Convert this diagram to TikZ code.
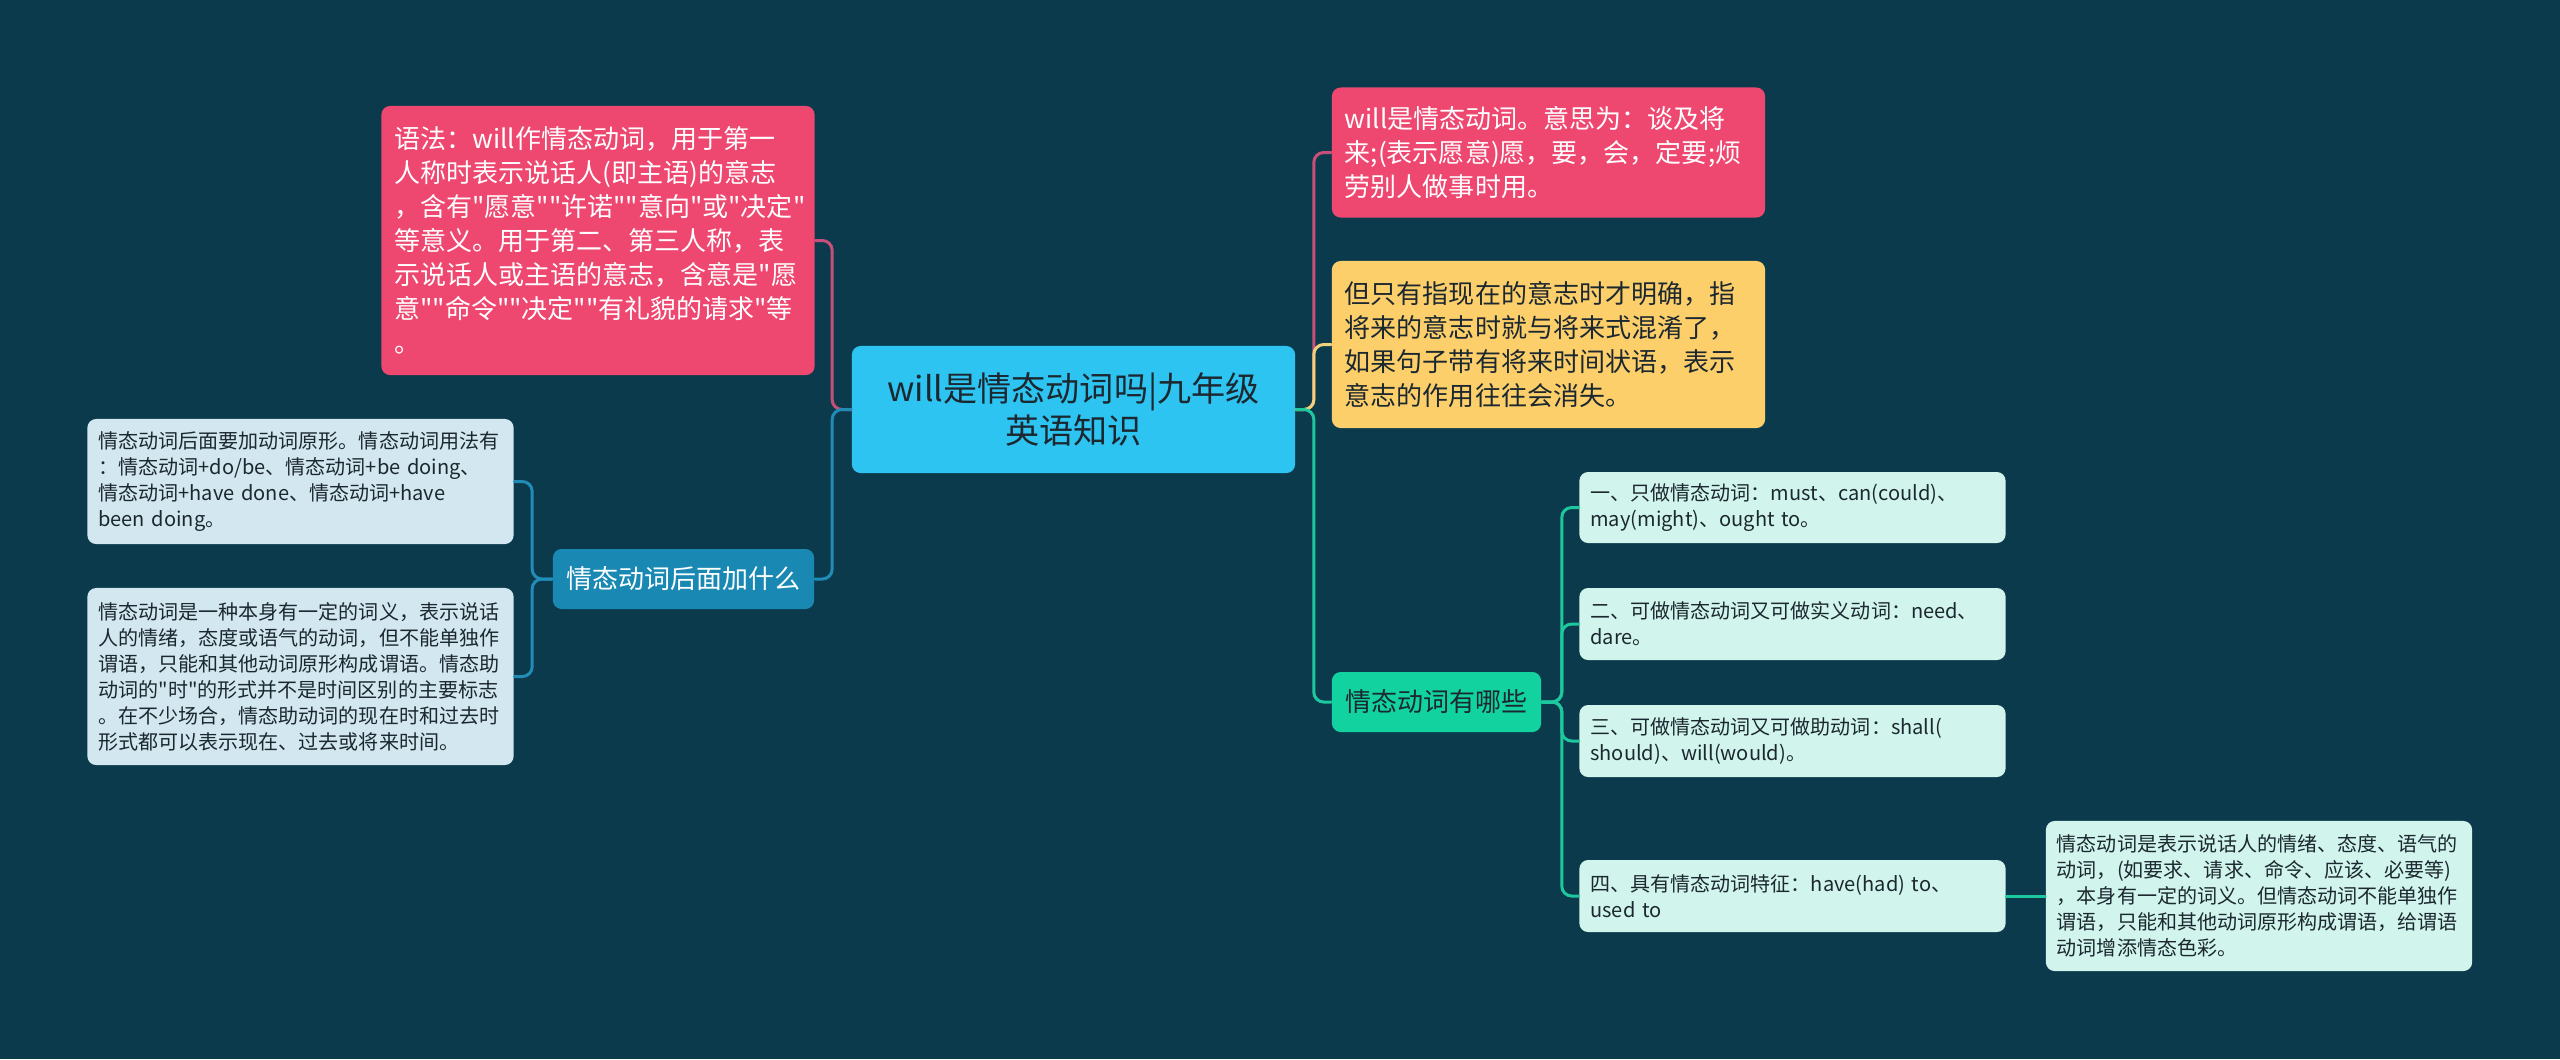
\documentclass[tikz,border=0pt]{standalone}
\usepackage{fontspec}
\setmainfont{Noto Sans CJK SC}[Ligatures=TeXOff]
\usepackage{tikz}
\usepackage{xcolor}
\definecolor{bgblue}{RGB}{11,58,77}
\definecolor{skyblue}{RGB}{46,196,242}
\definecolor{rosered}{RGB}{238,71,112}
\definecolor{roseline}{RGB}{200,80,120}
\definecolor{sunyellow}{RGB}{253,207,106}
\definecolor{sunline}{RGB}{240,210,125}
\definecolor{mintgreen}{RGB}{18,211,160}
\definecolor{mintline}{RGB}{30,200,158}
\definecolor{palemint}{RGB}{209,245,236}
\definecolor{deepblue}{RGB}{25,137,180}
\definecolor{blueline}{RGB}{34,140,184}
\definecolor{iceblue}{RGB}{210,231,239}
\definecolor{inkdark}{RGB}{28,40,48}

\begin{document}
\begin{tikzpicture}[x=0.01cm,y=-0.01cm,line cap=round,
  card/.style={rounded corners=2.5pt,inner ysep=0pt,align=left},
  bigcard/.style={card,inner xsep=0.13cm,text width=4.07cm,font=\fontsize{7.4pt}{9.67pt}\selectfont},
  smallcard/.style={card,inner xsep=0.11cm,text width=4.04cm,text=inkdark,font=\fontsize{5.7pt}{7.4pt}\selectfont},
  subcard/.style={card,align=center,inner xsep=0.135cm,minimum height=0.6cm,font=\fontsize{7.4pt}{9pt}\selectfont},
  link/.style={line width=0.85pt,rounded corners=2.8pt}]
\useasboundingbox (0,0) rectangle (2560,1059);
\fill[bgblue] (0,0) rectangle (2560,1059);
\node[card,fill=skyblue,text=inkdark,align=center,minimum width=4.43cm,minimum height=1.27cm,font=\fontsize{9.7pt}{11.95pt}\selectfont] (root) at (1073.5,409.5) {will是情态动词吗|九年级\\英语知识};
\node[bigcard,fill=rosered,text=white,minimum height=2.69cm] (tl) at (598,240.5) {语法：will作情态动词，用于第一\\人称时表示说话人(即主语)的意志\\，含有"愿意""许诺""意向"或"决定"\\等意义。用于第二、第三人称，表\\示说话人或主语的意志，含意是"愿\\意""命令""决定""有礼貌的请求"等\\。};
\node[bigcard,fill=rosered,text=white,minimum height=1.30cm] (tr) at (1548.5,152.5) {will是情态动词。意思为：谈及将\\来;(表示愿意)愿，要，会，定要;烦\\劳别人做事时用。};
\node[bigcard,fill=sunyellow,text=inkdark,minimum height=1.67cm] (ty) at (1548.5,344.5) {但只有指现在的意志时才明确，指\\将来的意志时就与将来式混淆了，\\如果句子带有将来时间状语，表示\\意志的作用往往会消失。};
\node[subcard,fill=deepblue,text=white] (lb) at (683.5,579) {情态动词后面加什么};
\node[smallcard,fill=iceblue,minimum height=1.25cm] (lb1) at (300.5,481.5) {情态动词后面要加动词原形。情态动词用法有\\：情态动词+do/be、情态动词+be doing、\\情态动词+have done、情态动词+have\\been doing。};
\node[smallcard,fill=iceblue,minimum height=1.77cm] (lb2) at (300.5,676.5) {情态动词是一种本身有一定的词义，表示说话\\人的情绪，态度或语气的动词，但不能单独作\\谓语，只能和其他动词原形构成谓语。情态助\\动词的"时"的形式并不是时间区别的主要标志\\。在不少场合，情态助动词的现在时和过去时\\形式都可以表示现在、过去或将来时间。};
\node[subcard,fill=mintgreen,text=inkdark] (rg) at (1436.5,702) {情态动词有哪些};
\node[smallcard,fill=palemint,minimum height=0.71cm] (rg1) at (1792.5,507.5) {一、只做情态动词：must、can(could)、\\may(might)、ought to。};
\node[smallcard,fill=palemint,minimum height=0.72cm] (rg2) at (1792.5,624) {二、可做情态动词又可做实义动词：need、\\dare。};
\node[smallcard,fill=palemint,minimum height=0.72cm] (rg3) at (1792.5,741) {三、可做情态动词又可做助动词：shall(\\should)、will(would)。};
\node[smallcard,fill=palemint,minimum height=0.72cm] (rg4) at (1792.5,896) {四、具有情态动词特征：have(had) to、\\used to};
\node[smallcard,fill=palemint,minimum height=1.50cm] (rg5) at (2259,896) {情态动词是表示说话人的情绪、态度、语气的\\动词，(如要求、请求、命令、应该、必要等)\\，本身有一定的词义。但情态动词不能单独作\\谓语，只能和其他动词原形构成谓语，给谓语\\动词增添情态色彩。};
\draw[link,roseline] (root.east) -- ++(18,0) |- (tr.west);
\draw[link,sunline] (root.east) -- ++(18,0) |- (ty.west);
\draw[link,mintline] (root.east) -- ++(18,0) |- (rg.west);
\draw[link,roseline] (root.west) -- ++(-19,0) |- (tl.east);
\draw[link,blueline] (root.west) -- ++(-19,0) |- (lb.east);
\draw[link,blueline] (lb.west) -- ++(-20,0) |- (lb1.east);
\draw[link,blueline] (lb.west) -- ++(-20,0) |- (lb2.east);
\draw[link,mintline] (rg.east) -- ++(20,0) |- (rg1.west);
\draw[link,mintline] (rg.east) -- ++(20,0) |- (rg2.west);
\draw[link,mintline] (rg.east) -- ++(20,0) |- (rg3.west);
\draw[link,mintline] (rg.east) -- ++(20,0) |- (rg4.west);
\draw[link,mintline] (rg4.east) -- (rg5.west);
\end{tikzpicture}
\end{document}
